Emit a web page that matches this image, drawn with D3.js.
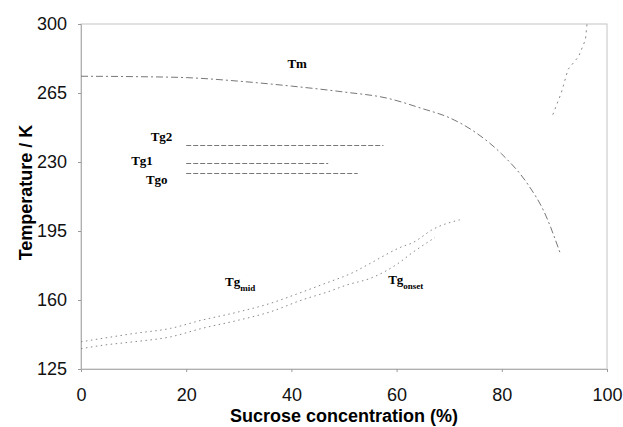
<!DOCTYPE html>
<html>
<head>
<meta charset="utf-8">
<script src="https://cdn.jsdelivr.net/npm/d3@7"></script>
<style>
  body { margin: 0; background: #fff; }
  svg { display: block; }
</style>
</head>
<body>
<div id="chart"></div>
<script>
// values
const tmConc = [0, 10, 20, 30, 40, 50, 58, 65, 70, 75, 80, 85, 88, 91.2];
const tmTemp = [273.5, 273.3, 272.8, 271, 268.5, 265.5, 262.5, 257, 252.5, 245, 234, 218.5, 205, 183];

const solConc = [89.7, 91.3, 92.6, 94.6, 95.9, 96.2];
const solTemp = [254, 265, 277, 283.5, 292, 300];

const tgMidConc = [0, 4, 10, 17, 23, 30, 36, 41, 46, 52, 55, 61, 63, 67, 72];
const tgMidTemp = [138.8, 140.5, 143, 145.6, 149.8, 154, 158.3, 163, 168, 174.3, 178.6, 187, 189, 196, 200.7];

const tgOnsetConc = [0, 4, 10, 17, 23, 30, 36, 42, 47, 50.5, 55, 60, 63, 67.3];
const tgOnsetTemp = [135.3, 137, 138.8, 141.3, 145.6, 149.8, 154, 160, 164.2, 167.6, 171, 178, 184, 191.7];

const tgNames = ["Tg2", "Tg1", "Tgo"];
const tgTemps = [238.6, 229.3, 224.6];
const tgStart = [20, 20, 20];
const tgEnd = [57.5, 47, 52.6];

const xTicks = [0, 20, 40, 60, 80, 100];
const yTicks = [125, 160, 195, 230, 265, 300];

// set the dimensions and margins of the graph
const margin = {top: 24, right: 16, bottom: 58, left: 81},
    width = 623 - margin.left - margin.right,
    height = 427 - margin.top - margin.bottom;

const svg = d3.select("#chart")
    .append("svg")
    .attr("width", 623)
    .attr("height", 427);
const g = svg.append("g")
    .attr("transform", `translate(${margin.left},${margin.top})`);

const x = d3.scaleLinear().domain([0, 100]).range([0, width]);
const y = d3.scaleLinear().domain([125, 300]).range([height, 0]);

// faded frame
g.append("rect")
    .attr("x", 0).attr("y", 0)
    .attr("width", width).attr("height", height)
    .attr("fill", "none")
    .attr("stroke", "#c4c4c4")
    .attr("stroke-width", 1);

// axes
const xAxis = g.append("g")
    .attr("transform", `translate(0,${height})`)
    .call(d3.axisBottom(x).tickValues(xTicks).tickSize(3).tickPadding(16));
const yAxis = g.append("g")
    .call(d3.axisLeft(y).tickValues(yTicks).tickSize(3).tickPadding(11));
[xAxis, yAxis].forEach(a => {
    a.select(".domain").attr("stroke", "#b0b0b0");
    a.selectAll(".tick line").attr("stroke", "#999");
    a.selectAll("text")
        .style("font-family", "Liberation Sans, Arial, sans-serif")
        .style("font-size", "18px")
        .attr("fill", "#111");
});

// axis titles
svg.append("text")
    .attr("x", margin.left + width / 2)
    .attr("y", 422)
    .attr("text-anchor", "middle")
    .style("font-family", "Liberation Sans, Arial, sans-serif")
    .style("font-size", "18px")
    .style("font-weight", "bold")
    .text("Sucrose concentration (%)");
svg.append("text")
    .attr("transform", "rotate(-90)")
    .attr("x", -(margin.top + height / 2) + 4)
    .attr("y", 32)
    .attr("text-anchor", "middle")
    .style("font-family", "Liberation Sans, Arial, sans-serif")
    .style("font-size", "18px")
    .style("font-weight", "bold")
    .text("Temperature / K");

const line = d3.line().x(d => x(d[0])).y(d => y(d[1])).curve(d3.curveMonotoneX);
const lineY = d3.line().x(d => x(d[0])).y(d => y(d[1])).curve(d3.curveLinear);

// Tm curve
g.append("path")
    .datum(d3.zip(tmConc, tmTemp))
    .attr("d", line)
    .attr("fill", "none")
    .attr("stroke", "#777")
    .attr("stroke-width", 1)
    .attr("stroke-dasharray", "7,3,2,3");

// solubility curve
g.append("path")
    .datum(d3.zip(solConc, solTemp))
    .attr("d", lineY)
    .attr("fill", "none")
    .attr("stroke", "#888")
    .attr("stroke-width", 1)
    .attr("stroke-dasharray", "2,4");

// Tg mid / onset curves
[[tgMidConc, tgMidTemp], [tgOnsetConc, tgOnsetTemp]].forEach(([c, t]) => {
    g.append("path")
        .datum(d3.zip(c, t))
        .attr("d", line)
        .attr("fill", "none")
        .attr("stroke", "#888")
        .attr("stroke-width", 1)
        .attr("stroke-dasharray", "1.5,3.5");
});

// horizontal Tg lines
g.selectAll(".tgline")
    .data(tgNames.map((n, i) => ({name: n, t: tgTemps[i], a: tgStart[i], b: tgEnd[i]})))
    .enter()
    .append("line")
    .attr("x1", d => x(d.a))
    .attr("x2", d => x(d.b))
    .attr("y1", d => Math.round(y(d.t)) + 0.5)
    .attr("y2", d => Math.round(y(d.t)) + 0.5)
    .attr("stroke", "#777")
    .attr("stroke-width", 1)
    .attr("stroke-dasharray", "5,2");

// labels (serif bold, like the original)
const labelFont = "Liberation Serif, Times New Roman, serif";
function label(txt, cx, ct, sub, anchor) {
    const t = g.append("text")
        .attr("x", x(cx))
        .attr("y", y(ct))
        .attr("text-anchor", anchor || "middle")
        .style("font-family", labelFont)
        .style("font-size", "13px")
        .style("font-weight", "bold")
        .text(txt);
    if (sub) {
        t.append("tspan")
            .attr("dy", 5)
            .style("font-size", "9px")
            .text(sub);
    }
}
label("Tm", 41.1, 277.9);
label("Tg2", 15.3, 240.9);
label("Tg1", 11.6, 228.5);
label("Tgo", 14.4, 218.8);
label("Tg", 27.4, 167.2, "mid", "start");
label("Tg", 58.4, 168.2, "onset", "start");
</script>
</body>
</html>
